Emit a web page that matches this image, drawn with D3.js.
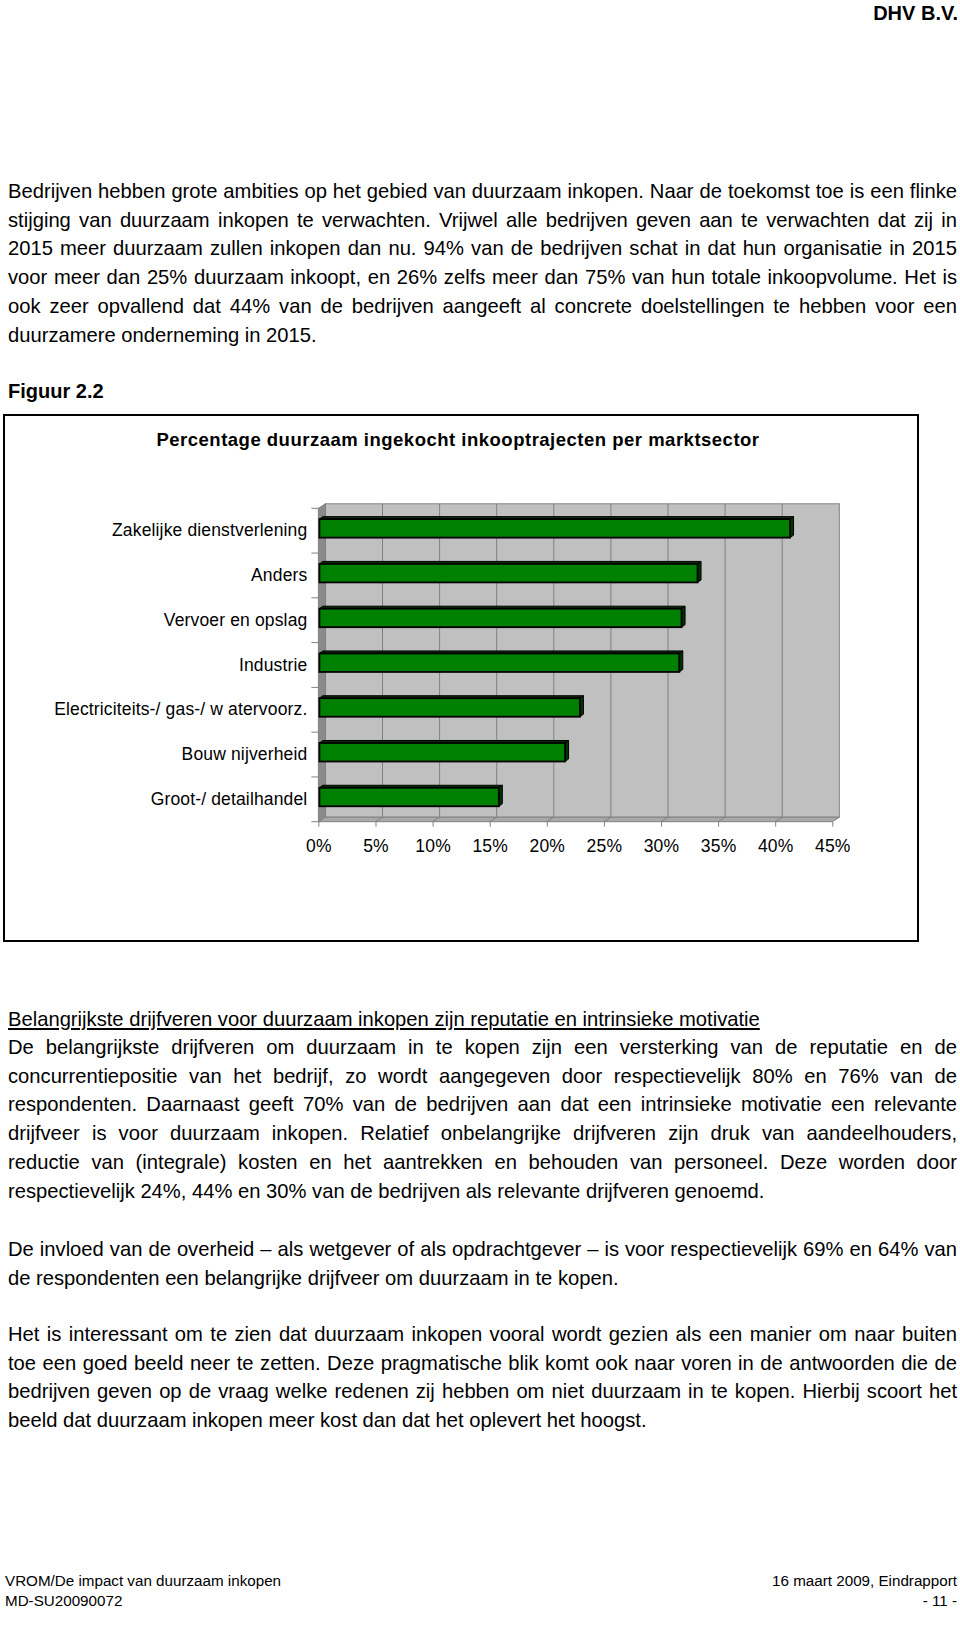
<!DOCTYPE html>
<html>
<head>
<meta charset="utf-8">
<script src="https://cdn.jsdelivr.net/npm/d3@7"></script>
<style>
  body { margin: 0; background: #fff; }
  svg { display: block; }
  text { font-family: "Liberation Sans", Arial, Helvetica, sans-serif; fill: #000; }
</style>
</head>
<body>
<svg id="page" width="960" height="1640"></svg>
<script>
// chart data
var sectors = ["Zakelijke dienstverlening", "Anders", "Vervoer en opslag", "Industrie",
               "Electriciteits-/ gas-/ w atervoorz.", "Bouw nijverheid", "Groot-/ detailhandel"];
var percentages = [41.3, 33.2, 31.8, 31.6, 22.9, 21.6, 15.8];
var tickValues = [0, 5, 10, 15, 20, 25, 30, 35, 40, 45];
var tickLabels = ["0%", "5%", "10%", "15%", "20%", "25%", "30%", "35%", "40%", "45%"];
var chartTitle = "Percentage duurzaam ingekocht inkooptrajecten per marktsector";

// page text, one entry per printed line
var para1 = [
  "Bedrijven hebben grote ambities op het gebied van duurzaam inkopen. Naar de toekomst toe is een flinke",
  "stijging van duurzaam inkopen te verwachten. Vrijwel alle bedrijven geven aan te verwachten dat zij in",
  "2015 meer duurzaam zullen inkopen dan nu. 94% van de bedrijven schat in dat hun organisatie in 2015",
  "voor meer dan 25% duurzaam inkoopt, en 26% zelfs meer dan 75% van hun totale inkoopvolume. Het is",
  "ook zeer opvallend dat 44% van de bedrijven aangeeft al concrete doelstellingen te hebben voor een",
  "duurzamere onderneming in 2015."
];
var heading2 = "Belangrijkste drijfveren voor duurzaam inkopen zijn reputatie en intrinsieke motivatie";
var para2 = [
  "De belangrijkste drijfveren om duurzaam in te kopen zijn een versterking van de reputatie en de",
  "concurrentiepositie van het bedrijf, zo wordt aangegeven door respectievelijk 80% en 76% van de",
  "respondenten. Daarnaast geeft 70% van de bedrijven aan dat een intrinsieke motivatie een relevante",
  "drijfveer is voor duurzaam inkopen. Relatief onbelangrijke drijfveren zijn druk van aandeelhouders,",
  "reductie van (integrale) kosten en het aantrekken en behouden van personeel. Deze worden door",
  "respectievelijk 24%, 44% en 30% van de bedrijven als relevante drijfveren genoemd."
];
var para3 = [
  "De invloed van de overheid \u2013 als wetgever of als opdrachtgever \u2013 is voor respectievelijk 69% en 64% van",
  "de respondenten een belangrijke drijfveer om duurzaam in te kopen."
];
var para4 = [
  "Het is interessant om te zien dat duurzaam inkopen vooral wordt gezien als een manier om naar buiten",
  "toe een goed beeld neer te zetten. Deze pragmatische blik komt ook naar voren in de antwoorden die de",
  "bedrijven geven op de vraag welke redenen zij hebben om niet duurzaam in te kopen. Hierbij scoort het",
  "beeld dat duurzaam inkopen meer kost dan dat het oplevert het hoogst."
];

var svg = d3.select("#page");
var LEFT = 8, RIGHT = 957, LINE = 28.7;

// justified paragraph: stretch word spacing on every line but the last
function paragraph(lines, y0) {
  lines.forEach(function(line, i) {
    var t = svg.append("text")
      .attr("x", LEFT)
      .attr("y", y0 + i * LINE)
      .style("font-size", "20.2px")
      .text(line);
    if (i < lines.length - 1) {
      var w = t.node().getComputedTextLength();
      var spaces = (line.match(/ /g) || []).length;
      t.style("word-spacing", ((RIGHT - LEFT - w) / spaces) + "px");
    }
  });
}

// header
svg.append("text")
  .attr("x", 958).attr("y", 20)
  .attr("text-anchor", "end")
  .style("font-size", "20px").style("font-weight", "bold")
  .text("DHV B.V.");

paragraph(para1, 198);

svg.append("text")
  .attr("x", LEFT).attr("y", 398)
  .style("font-size", "20px").style("font-weight", "bold")
  .text("Figuur 2.2");

// chart frame
svg.append("rect")
  .attr("x", 4).attr("y", 415)
  .attr("width", 914).attr("height", 526)
  .attr("fill", "none").attr("stroke", "#000").attr("stroke-width", 2);

svg.append("text")
  .attr("x", 458).attr("y", 446)
  .attr("text-anchor", "middle")
  .style("font-size", "18.5px").style("font-weight", "bold")
  .style("letter-spacing", "0.5px")
  .text(chartTitle);

// Draws the 3d-look bar chart
var x = d3.scaleLinear().domain([0, 45]).range([318.4, 832.3]);
var y = d3.scaleBand().domain(sectors).range([508.3, 821.7]);
var dx = 7, dy = -4.5;          // wall depth
var bdx = 3.5, bdy = -2.5;      // bar depth
var yTop = y.range()[0], yBottom = y.range()[1];
var g = svg.append("g");

// back wall
g.append("rect")
  .attr("x", x(0) + dx).attr("y", yTop + dy)
  .attr("width", x(45) - x(0)).attr("height", yBottom - yTop)
  .attr("fill", "#c0c0c0").attr("stroke", "#808080").attr("stroke-width", 1);

// side wall
g.append("polygon")
  .attr("points", [[x(0), yTop], [x(0) + dx, yTop + dy], [x(0) + dx, yBottom + dy], [x(0), yBottom]].join(" "))
  .attr("fill", "#8a8a8a").attr("stroke", "#808080").attr("stroke-width", 1);

// floor
g.append("polygon")
  .attr("points", [[x(0), yBottom], [x(0) + dx, yBottom + dy], [x(45) + dx, yBottom + dy], [x(45), yBottom]].join(" "))
  .attr("fill", "#a9a9a9").attr("stroke", "#808080").attr("stroke-width", 1);

// gridlines on the wall and across the floor
g.selectAll(".grid")
  .data(tickValues.slice(1, -1))
  .enter().append("polyline")
    .attr("class", "grid")
    .attr("points", function(d) {
      return [[x(d) + dx, yTop + dy], [x(d) + dx, yBottom + dy], [x(d), yBottom]].join(" ");
    })
    .attr("fill", "none").attr("stroke", "#808080").attr("stroke-width", 1);

// category boundary ticks
g.selectAll(".ctick")
  .data(d3.range(sectors.length + 1))
  .enter().append("line")
    .attr("class", "ctick")
    .attr("x1", x(0) - 7).attr("x2", x(0))
    .attr("y1", function(i) { return yTop + i * y.step(); })
    .attr("y2", function(i) { return yTop + i * y.step(); })
    .attr("stroke", "#808080").attr("stroke-width", 1);

// bars
var barH = 18.5;
var bars = g.selectAll(".bar")
  .data(sectors)
  .enter().append("g")
    .attr("class", "bar");

function barTop(d) { return y(d) + y.bandwidth() / 2 - 2.3 - barH / 2; }
function barEnd(d, i) { return x(percentages[i]); }

bars.append("polygon")
  .attr("points", function(d, i) {
    var t = barTop(d), x0 = x(0) + 1, x1 = barEnd(d, i);
    return [[x0, t], [x0 + bdx, t + bdy], [x1 + bdx, t + bdy], [x1, t]].join(" ");
  })
  .attr("fill", "#0b2a0b").attr("stroke", "#000").attr("stroke-width", 1);

bars.append("polygon")
  .attr("points", function(d, i) {
    var t = barTop(d), x1 = barEnd(d, i);
    return [[x1, t], [x1 + bdx, t + bdy], [x1 + bdx, t + barH + bdy], [x1, t + barH]].join(" ");
  })
  .attr("fill", "#003300").attr("stroke", "#000").attr("stroke-width", 1);

bars.append("rect")
  .attr("x", x(0) + 1)
  .attr("y", barTop)
  .attr("width", function(d, i) { return barEnd(d, i) - x(0) - 1; })
  .attr("height", barH)
  .attr("fill", "#008000").attr("stroke", "#000").attr("stroke-width", 1.8);

// value axis
var xAxis = g.append("g")
  .attr("transform", "translate(0," + yBottom + ")")
  .call(d3.axisBottom(x)
    .tickValues(tickValues)
    .tickFormat(function(d, i) { return tickLabels[i]; })
    .tickSize(5)
    .tickPadding(13));
xAxis.select(".domain").remove();
xAxis.selectAll(".tick line").attr("stroke", "#808080");
xAxis.selectAll("text")
  .attr("fill", "#000")
  .style("font-size", "17.5px")
  .style("letter-spacing", "0.2px")
  .style("font-family", "\"Liberation Sans\", Arial, sans-serif");

// category axis
var yAxis = g.append("g")
  .attr("transform", "translate(" + x(0) + ",0)")
  .call(d3.axisLeft(y).tickSize(0).tickPadding(11));
yAxis.select(".domain").remove();
yAxis.selectAll("text")
  .attr("fill", "#000")
  .style("font-size", "17.5px")
  .style("letter-spacing", "0.15px")
  .style("font-family", "\"Liberation Sans\", Arial, sans-serif");

// text below the chart
svg.append("text")
  .attr("x", LEFT).attr("y", 1026)
  .style("font-size", "20.2px")
  .style("text-decoration", "underline")
  .text(heading2);
paragraph(para2, 1054);
paragraph(para3, 1256);
paragraph(para4, 1341);

// footer
svg.append("text").attr("x", 5).attr("y", 1586).style("font-size", "15.2px")
  .text("VROM/De impact van duurzaam inkopen");
svg.append("text").attr("x", 5).attr("y", 1606).style("font-size", "15.2px")
  .text("MD-SU20090072");
svg.append("text").attr("x", 957).attr("y", 1586).attr("text-anchor", "end").style("font-size", "15.2px")
  .text("16 maart 2009, Eindrapport");
svg.append("text").attr("x", 957).attr("y", 1606).attr("text-anchor", "end").style("font-size", "15.2px")
  .text("- 11 -");
</script>
</body>
</html>
